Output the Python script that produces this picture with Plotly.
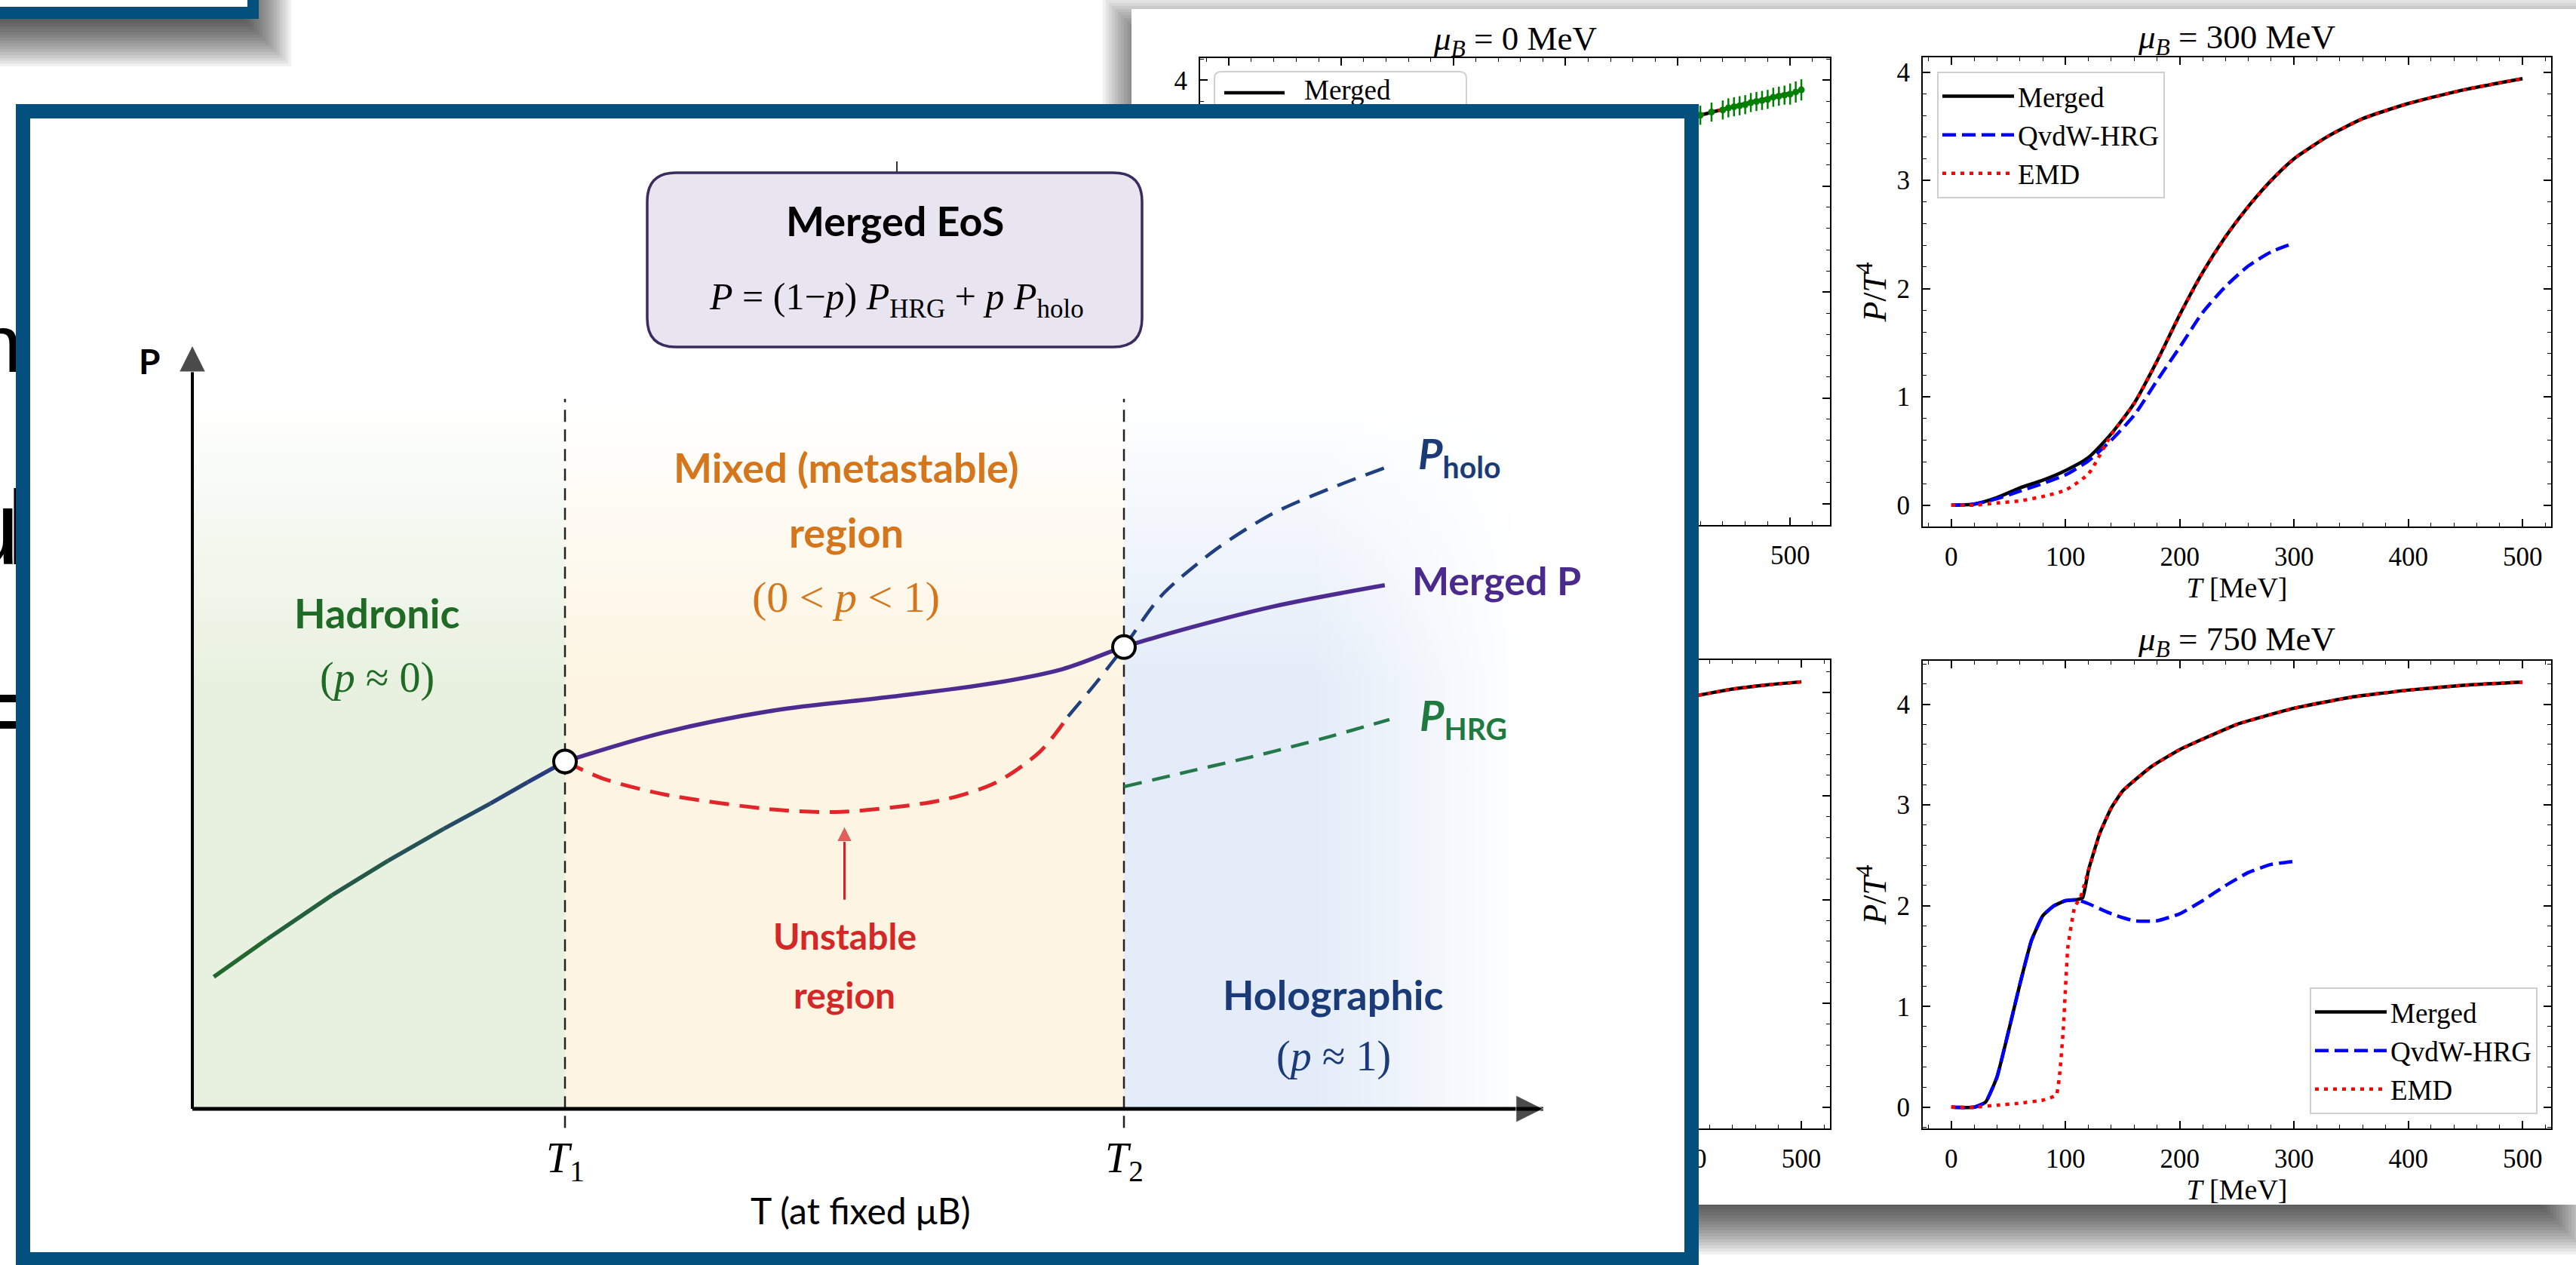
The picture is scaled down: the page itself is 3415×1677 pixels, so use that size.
import plotly.graph_objects as go

W, H = 3415, 1677


def fx(p):
    """Horizontal pixel position -> paper fraction."""
    return p / W


def fy(p):
    """Vertical pixel position (measured from the top) -> paper fraction."""
    return 1 - p / H


SERIF = "Liberation Serif"
SANS = "Liberation Sans"
DIAG = "Lato"
FRAME = "#03507f"

# ----------------------------------------------------------------------
# P/T^4 versus T panels
# ----------------------------------------------------------------------
# mu_B = 0 MeV (upper left): high-T end of the curves and the lattice points
T_mu0 = [420, 460, 500]
merged_mu0 = [3.67, 3.78, 3.88]
emd_mu0 = [3.67, 3.78, 3.88]
T_lattice = [420, 430, 440, 445, 450, 455, 460, 465, 470, 475, 480, 485, 490, 495, 500, 505, 510]
P_lattice = [3.67, 3.70, 3.72, 3.74, 3.75, 3.76, 3.77, 3.79, 3.80, 3.81, 3.82, 3.84, 3.85, 3.86, 3.87, 3.89, 3.91]
err_lattice = [0.09, 0.09, 0.09, 0.09, 0.09, 0.09, 0.09, 0.09, 0.09, 0.09, 0.09, 0.09, 0.09, 0.09, 0.10, 0.10, 0.10]

# mu_B = 300 MeV (upper right)
T_300 = [0, 20, 40, 60, 80, 100, 120, 140, 160, 180, 200, 220, 240, 260, 280, 300, 330, 360, 400, 450, 500]
merged_300 = [0.0, 0.01, 0.07, 0.16, 0.23, 0.32, 0.44, 0.66, 0.94, 1.33, 1.76, 2.15, 2.48, 2.76, 3.00, 3.20,
              3.41, 3.57, 3.71, 3.84, 3.94]
emd_300 = [0.0, 0.0, 0.02, 0.04, 0.08, 0.14, 0.29, 0.65, 0.94, 1.33, 1.76, 2.15, 2.48, 2.76, 3.00, 3.20,
           3.41, 3.57, 3.71, 3.84, 3.94]
T_300_hrg = [0, 20, 40, 60, 80, 100, 120, 140, 160, 180, 200, 220, 240, 260, 280, 300]
hrg_300 = [0.0, 0.01, 0.06, 0.13, 0.20, 0.28, 0.41, 0.60, 0.83, 1.15, 1.46, 1.78, 2.02, 2.21, 2.34, 2.42]

# lower-left panel: high-T end of the merged / EMD curves
T_low = [410, 440, 470, 500]
merged_low = [3.97, 4.03, 4.07, 4.10]
emd_low = [3.97, 4.03, 4.07, 4.10]

# mu_B = 750 MeV (lower right)
T_750 = [0, 20, 30, 40, 50, 60, 70, 80, 90, 100, 110, 115, 120, 130, 140, 150, 175, 200, 250, 300, 350,
         400, 450, 500]
merged_750 = [0.0, 0.0, 0.05, 0.30, 0.75, 1.22, 1.65, 1.90, 2.00, 2.05, 2.06, 2.08, 2.35, 2.72, 2.97, 3.14,
              3.38, 3.55, 3.80, 3.96, 4.07, 4.14, 4.19, 4.22]
T_750_hrg = [0, 20, 30, 40, 50, 60, 70, 80, 90, 100, 110, 120, 140, 160, 180, 200, 220, 240, 260, 280, 300]
hrg_750 = [0.0, 0.0, 0.05, 0.30, 0.75, 1.22, 1.65, 1.90, 2.00, 2.05, 2.06, 2.02, 1.92, 1.85, 1.85, 1.92,
           2.05, 2.20, 2.33, 2.41, 2.44]
T_750_emd = [0, 20, 40, 60, 80, 92, 95, 98, 102, 108, 113, 120, 130, 140, 150, 175, 200, 250, 300, 350,
             400, 450, 500]
emd_750 = [0.0, 0.0, 0.02, 0.04, 0.07, 0.12, 0.35, 0.77, 1.59, 1.99, 2.08, 2.35, 2.72, 2.97, 3.14, 3.38,
           3.55, 3.80, 3.96, 4.07, 4.14, 4.19, 4.22]

panel_titles = ["<i>μ</i><sub><i>B</i></sub> = 0 MeV",
                "<i>μ</i><sub><i>B</i></sub> = 300 MeV",
                "<i>μ</i><sub><i>B</i></sub> = 750 MeV"]

# ----------------------------------------------------------------------
# Schematic of the merged equation of state (arbitrary units)
# ----------------------------------------------------------------------
T1, T2 = 4.0, 10.0
T_axis_end, P_axis_end = 14.5, 10.0
shade_top, shade_right = 9.3, 14.2
T_hadronic = [0.23, 0.8, 1.5, 2.1, 2.7, 3.2, 3.6, 4.0]
P_hadronic = [1.73, 2.22, 2.80, 3.25, 3.67, 4.00, 4.28, 4.55]
T_merged = [4.0, 5.06, 6.25, 7.44, 8.62, 9.34, 10.0, 10.76, 11.6, 12.8]
P_merged = [4.55, 4.93, 5.22, 5.39, 5.58, 5.76, 6.05, 6.32, 6.58, 6.86]
T_unstable = [4.0, 4.4, 5.06, 6.25, 6.96, 8.03, 8.62, 9.1, 9.4]
P_unstable = [4.55, 4.33, 4.12, 3.92, 3.89, 4.04, 4.27, 4.68, 5.14]
T_holo = [9.4, 9.7, 10.0, 10.4, 11.0, 11.6, 12.2, 12.85]
P_holo = [5.14, 5.58, 6.05, 6.72, 7.34, 7.80, 8.12, 8.42]
T_hrg = [10.0, 10.7, 11.4, 12.1, 12.85]
P_hrg = [4.22, 4.42, 4.62, 4.84, 5.10]
T_junction = [T1, T2]
P_junction = [4.55, 6.05]
unstable_arrow_T = [7.0, 7.0]
unstable_arrow_P = [2.74, 3.70]

MERGED = dict(color="black", width=4.5)
QVDW = dict(color="#0000ff", width=4.5, dash="18px,8px")
EMD = dict(color="#ff0000", width=4.5, dash="5px,7px")

fig = go.Figure()


def curve(x, y, style, xa, ya, name=None, legend=None, show=False, smooth=0.6):
    return go.Scatter(x=x, y=y, mode="lines", name=name, legend=legend, showlegend=show,
                      line=dict(shape="spline", smoothing=smooth, **style),
                      xaxis=xa, yaxis=ya, hoverinfo="skip")


# upper left (x / y)
fig.add_trace(curve(T_mu0, merged_mu0, MERGED, "x", "y"))
fig.add_trace(curve(T_mu0, emd_mu0, EMD, "x", "y"))
fig.add_trace(go.Scatter(x=T_lattice, y=P_lattice, mode="markers", xaxis="x", yaxis="y",
                         marker=dict(color="#008000", size=9),
                         error_y=dict(type="data", array=err_lattice, color="#008000",
                                      thickness=2.5, width=0),
                         showlegend=False, hoverinfo="skip"))
# legend label of the upper-left panel, placed in that panel's data space
tl_x = -25.5 + (1729 - 1591) / (2426 - 1591) * 561.0
tl_y = -0.2 + (696 - 123) / (696 - 77) * 4.41
fig.add_trace(go.Scatter(x=[tl_x], y=[tl_y], mode="text", text=["Merged"], textposition="middle right",
                         textfont=dict(family=SERIF, size=37, color="black"), xaxis="x", yaxis="y",
                         cliponaxis=False, showlegend=False, hoverinfo="skip"))

# upper right (x2 / y2)
fig.add_trace(curve(T_300, merged_300, MERGED, "x2", "y2", "Merged", "legend", True))
fig.add_trace(curve(T_300_hrg, hrg_300, QVDW, "x2", "y2", "QvdW-HRG", "legend", True))
fig.add_trace(curve(T_300, emd_300, EMD, "x2", "y2", "EMD", "legend", True))

# lower left (x3 / y3)
fig.add_trace(curve(T_low, merged_low, MERGED, "x3", "y3"))
fig.add_trace(curve(T_low, emd_low, EMD, "x3", "y3"))

# lower right (x4 / y4)
fig.add_trace(curve(T_750, merged_750, MERGED, "x4", "y4", "Merged", "legend2", True, 0.4))
fig.add_trace(curve(T_750_hrg, hrg_750, QVDW, "x4", "y4", "QvdW-HRG", "legend2", True, 0.4))
fig.add_trace(curve(T_750_emd, emd_750, EMD, "x4", "y4", "EMD", "legend2", True, 0.3))

# slide text peeking out at the left edge (x5 / y5)
fig.add_trace(go.Scatter(x=[29, 26, 9, 42], y=[466, 713, 713, 954], mode="text",
                         text=["n", "u", "l", "="],
                         textposition=["middle left", "middle left", "middle right", "middle left"],
                         textfont=dict(family=SANS, size=[108, 140, 140, 140], color="black"),
                         xaxis="x5", yaxis="y5", cliponaxis=False, showlegend=False, hoverinfo="skip"))


# framed schematic (x6 / y6)
def diag(**kw):
    kw.setdefault("showlegend", False)
    kw.setdefault("hoverinfo", "skip")
    return go.Scatter(xaxis="x6", yaxis="y6", **kw)


def shaded(x0, x1, rgb):
    solid = "rgba(%d,%d,%d,1)" % rgb
    clear = "rgba(%d,%d,%d,0)" % rgb
    return diag(x=[x0, x1, x1, x0, x0], y=[0, 0, shade_top, shade_top, 0], mode="lines",
                line=dict(width=0), fill="toself",
                fillgradient=dict(type="vertical", start=0, stop=shade_top,
                                  colorscale=[[0, solid], [0.6, solid], [1, clear]]))


fig.add_trace(shaded(0, T1, (232, 241, 224)))
fig.add_trace(shaded(T1, T2, (253, 245, 226)))
fig.add_trace(shaded(T2, shade_right, (227, 236, 248)))
fig.add_trace(diag(x=[12.0, shade_right + 0.1, shade_right + 0.1, 12.0, 12.0],
                   y=[0, 0, shade_top, shade_top, 0], mode="lines", line=dict(width=0), fill="toself",
                   fillgradient=dict(type="horizontal", start=12.0, stop=shade_right + 0.1,
                                     colorscale=[[0, "rgba(255,255,255,0)"], [1, "rgba(255,255,255,1)"]])))

for tb in (T1, T2):
    fig.add_trace(diag(x=[tb, tb], y=[-0.25, shade_top], mode="lines",
                       line=dict(color="#222222", width=2.5, dash="16px,10px")))

# axes with arrow heads
fig.add_trace(diag(x=[0, T_axis_end], y=[0, 0], mode="lines+markers",
                   line=dict(color="black", width=5),
                   marker=dict(symbol="arrow-right", size=[0, 36], color="black")))
fig.add_trace(diag(x=[0, 0], y=[0, P_axis_end], mode="lines+markers",
                   line=dict(color="black", width=4),
                   marker=dict(symbol="arrow-up", size=[0, 35], color="black")))

fig.add_trace(diag(x=T_hrg, y=P_hrg, mode="lines",
                   line=dict(color="#23794a", width=4.5, dash="24px,14px", shape="spline")))
fig.add_trace(diag(x=T_unstable, y=P_unstable, mode="lines",
                   line=dict(color="#e0262b", width=5, dash="26px,14px", shape="spline", smoothing=0.8)))
fig.add_trace(diag(x=T_holo, y=P_holo, mode="lines",
                   line=dict(color="#1f3f80", width=4.5, dash="26px,14px", shape="spline", smoothing=0.8)))

c_start, c_end = (34, 104, 46), (40, 58, 128)
nseg = len(T_hadronic) - 1
for i in range(nseg):
    f = i / (nseg - 1)
    col = "rgb(%d,%d,%d)" % tuple(round(a + (b - a) * f) for a, b in zip(c_start, c_end))
    fig.add_trace(diag(x=T_hadronic[i:i + 2], y=P_hadronic[i:i + 2], mode="lines",
                       line=dict(color=col, width=5.5)))
fig.add_trace(diag(x=T_merged, y=P_merged, mode="lines",
                   line=dict(color="#4d2c91", width=5.5, shape="spline", smoothing=1.0)))
fig.add_trace(diag(x=T_junction, y=P_junction, mode="markers",
                   marker=dict(symbol="circle", size=30, color="white", line=dict(color="black", width=4))))
fig.add_trace(diag(x=unstable_arrow_T, y=unstable_arrow_P, mode="lines+markers",
                   line=dict(color="#d42020", width=3),
                   marker=dict(symbol="arrow-up", size=[0, 20], color="#d42020")))


# ----------------------------------------------------------------------
# axes
# ----------------------------------------------------------------------
def panel_axis(domain, rng, anchor, dtick, minor, title=None, standoff=None, title_size=38):
    ax = dict(domain=domain, range=rng, anchor=anchor, tick0=0, dtick=dtick,
              ticks="inside", ticklen=10, tickwidth=1.6, tickcolor="black",
              minor=dict(tick0=0, dtick=minor, ticks="inside", ticklen=5, tickwidth=1.2, tickcolor="black"),
              showline=True, linewidth=2, linecolor="black", mirror="allticks",
              showgrid=False, zeroline=False, fixedrange=True, ticklabelstandoff=8,
              tickfont=dict(family=SERIF, size=35, color="black"))
    if title:
        ax["title"] = dict(text=title, font=dict(family=SERIF, size=title_size, color="black"),
                           standoff=standoff)
    return ax


XT = "<i>T</i> [MeV]"
YT = "<i>P</i>/<i>T</i><sup>4</sup>"
left_col = [fx(1591), fx(2426)]
right_col = [fx(2549), fx(3382)]
top_row = [fy(696), fy(77)]
bot_row = [fy(1496), fy(875)]

layout_axes = dict(
    xaxis=panel_axis(left_col, [-25.5, 535.5], "y", 100, 20),
    yaxis=panel_axis(top_row, [-0.2, 4.21], "x", 1, 0.2),
    xaxis2=panel_axis(right_col, [-25, 525], "y2", 100, 20, XT, 4),
    yaxis2=panel_axis([fy(698), fy(76)], [-0.197, 4.137], "x2", 1, 0.2, YT, 0, 44),
    xaxis3=panel_axis(left_col, [-25, 525], "y3", 100, 20),
    yaxis3=panel_axis(bot_row, [-0.205, 4.31], "x3", 1, 0.2),
    xaxis4=panel_axis(right_col, [-25, 525], "y4", 100, 20, XT, 4),
    yaxis4=panel_axis([fy(1496), fy(876)], [-0.211, 4.431], "x4", 1, 0.2, YT, 0, 44),
    xaxis5=dict(domain=[0, fx(102)], range=[0, 102], anchor="y5", visible=False, fixedrange=True),
    yaxis5=dict(domain=[fy(1010), fy(400)], range=[1010, 400], anchor="x5", visible=False, fixedrange=True),
)
frame_axis = dict(showline=True, mirror=True, linecolor=FRAME, linewidth=19, showgrid=False,
                  zeroline=False, showticklabels=False, ticks="", fixedrange=True)
layout_axes["xaxis6"] = dict(domain=[fx(40), fx(2233)], range=[-1.741, 16.016], anchor="y6", **frame_axis)
layout_axes["yaxis6"] = dict(domain=[fy(1660), fy(157)], range=[-1.8775, 12.974], anchor="x6", **frame_axis)


# ----------------------------------------------------------------------
# decorations: drop shadows, panel sheet, slide box, legend box, formula box
# ----------------------------------------------------------------------
def soft_shadow(x0, y0, x1, y1, spread, n, alpha):
    out = []
    for i in range(n):
        e = -spread + 2 * spread * (i + 0.5) / n
        out.append(dict(type="rect", xref="paper", yref="paper", layer="below",
                        x0=fx(x0 - e), x1=fx(x1 + e), y0=fy(y1 + e), y1=fy(y0 - e),
                        fillcolor="rgba(0,0,0,%.4f)" % alpha, line=dict(width=0)))
    return out


def box(x0, y0, x1, y1, color, layer="below"):
    return dict(type="rect", xref="paper", yref="paper", layer=layer,
                x0=fx(x0), x1=fx(x1), y0=fy(y1), y1=fy(y0), fillcolor=color, line=dict(width=0))


def rounded(x0, y0, x1, y1, r):
    X0, X1, Yt, Yb = fx(x0), fx(x1), fy(y0), fy(y1)
    rx, ry = r / W, r / H
    return ("M{a},{t} L{b},{t} Q{X1},{t} {X1},{c} L{X1},{d} Q{X1},{Yb} {b},{Yb} "
            "L{a},{Yb} Q{X0},{Yb} {X0},{d} L{X0},{c} Q{X0},{t} {a},{t} Z").format(
        a=X0 + rx, b=X1 - rx, t=Yt, c=Yt - ry, d=Yb + ry, X0=X0, X1=X1, Yb=Yb)


shapes = []
shapes += soft_shadow(1500, 34, 3395, 1625, 40, 20, 0.055)
shapes.append(box(1500, 12, 3440, 1597, "white"))
shapes += soft_shadow(-400, -370, 350, 52, 38, 20, 0.055)
shapes.append(box(-10, -10, 328, 9, "white"))
shapes.append(box(-10, 9, 343, 25, FRAME))
shapes.append(box(328, -10, 343, 25, FRAME))
shapes.append(dict(type="path", xref="paper", yref="paper", layer="below", path=rounded(1610, 95, 1944, 430, 9),
                   fillcolor="white", line=dict(color="#cfcfcf", width=2)))
shapes.append(dict(type="line", xref="paper", yref="paper", layer="below",
                   x0=fx(1623), x1=fx(1703), y0=fy(123), y1=fy(123), line=dict(color="black", width=4.5)))
shapes.append(dict(type="path", xref="paper", yref="paper", layer="above", path=rounded(858, 229, 1514, 460, 38),
                   fillcolor="#e8e5f0", line=dict(color="#3b2b5e", width=3.5)))
shapes.append(dict(type="line", xref="paper", yref="paper", layer="above",
                   x0=fx(1189), x1=fx(1189), y0=fy(214), y1=fy(229), line=dict(color="#333333", width=2)))

# ----------------------------------------------------------------------
# text
# ----------------------------------------------------------------------
annotations = []


def paper_text(x, y, text, size, family=SERIF, color="black", weight="normal"):
    annotations.append(dict(x=fx(x), y=fy(y), xref="paper", yref="paper", text=text, showarrow=False,
                            xanchor="center", yanchor="middle",
                            font=dict(family=family, size=size, color=color, weight=weight)))


def diag_text(x, y, text, size, color, family=DIAG, weight="bold", xanchor="center"):
    annotations.append(dict(x=x, y=y, xref="x6", yref="y6", text=text, showarrow=False,
                            xanchor=xanchor, yanchor="middle",
                            font=dict(family=family, size=size, color=color, weight=weight)))


paper_text(2008, 54, panel_titles[0], 45)
paper_text(2965, 52, panel_titles[1], 45)
paper_text(2965, 850, panel_titles[2], 45)

paper_text(1186, 292, "Merged EoS", 54, DIAG, "black", "bold")
paper_text(1188, 397, "<i>P</i> = (1−<i>p</i>) <i>P</i><sub>HRG</sub> + <i>p</i> <i>P</i><sub>holo</sub>", 50)

GREEN, ORANGE, RED, NAVY, PURPLE = "#1f6b25", "#d6761c", "#d42828", "#1b3a78", "#4a2a8c"
diag_text(1.98, 6.50, "Hadronic", 54, GREEN)
diag_text(1.98, 5.65, "(<i>p</i> ≈ 0)", 56, GREEN, SERIF, "normal")
diag_text(7.02, 8.40, "Mixed (metastable)", 54, ORANGE)
diag_text(7.02, 7.55, "region", 54, ORANGE)
diag_text(7.02, 6.70, "(0 &lt; <i>p</i> &lt; 1)", 58, ORANGE, SERIF, "normal")
diag_text(7.0, 2.27, "Unstable", 48, RED)
diag_text(7.0, 1.50, "region", 48, RED)
diag_text(12.25, 1.50, "Holographic", 54, NAVY)
diag_text(12.25, 0.69, "(<i>p</i> ≈ 1)", 56, NAVY, SERIF, "normal")
diag_text(13.14, 8.55, "<i>P</i><sub>holo</sub>", 56, NAVY, xanchor="left")
diag_text(13.08, 6.93, "Merged P", 52, PURPLE, xanchor="left")
diag_text(13.16, 5.12, "<i>P</i><sub>HRG</sub>", 56, "#1f7a3f", xanchor="left")
diag_text(T1, -0.68, "<i>T</i><sub>1</sub>", 56, "black", SERIF, "normal")
diag_text(T2, -0.68, "<i>T</i><sub>2</sub>", 56, "black", SERIF, "normal")
diag_text(7.17, -1.33, "T (at fixed μB)", 48, "black", DIAG, "normal")
diag_text(-0.46, 9.80, "P", 46, "black")

legend_style = dict(font=dict(family=SERIF, size=37, color="black"), bgcolor="rgba(255,255,255,0.9)",
                    bordercolor="#cfcfcf", borderwidth=2, itemwidth=95, tracegroupgap=0)

fig.update_layout(
    width=W, height=H, margin=dict(l=0, r=0, t=0, b=0),
    paper_bgcolor="white", plot_bgcolor="white",
    showlegend=True,
    legend=dict(x=fx(2568), y=fy(95), xanchor="left", yanchor="top", **legend_style),
    legend2=dict(x=fx(3364), y=fy(1477), xanchor="right", yanchor="bottom", **legend_style),
    shapes=shapes, annotations=annotations,
    **layout_axes,
)

fig.write_html("out.html", config={"displayModeBar": False})
